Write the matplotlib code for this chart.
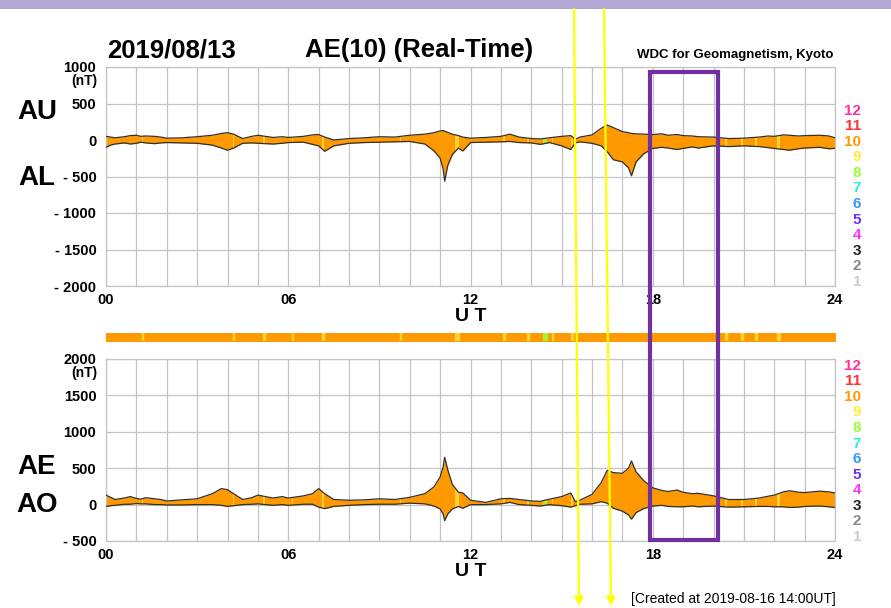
import numpy as np
import matplotlib
matplotlib.use("Agg")
import matplotlib.pyplot as plt
from matplotlib.patches import Rectangle

plt.rcParams["font.family"] = ["Liberation Sans", "DejaVu Sans"]

# ------------------------------------------------------------
#   AE(10) real-time, 2019/08/13  (values in nT, time in UT hours)
# ------------------------------------------------------------
hours = [0, 0.15, 0.3, 0.6, 0.8, 1.0, 1.15, 1.3, 1.6, 1.8, 2.0, 2.5, 3.0,
         3.5, 3.8, 4.0, 4.2, 4.5, 4.8, 5.0, 5.5, 5.8, 6.0, 6.5, 6.8, 7.0,
         7.2, 7.5, 8.0, 8.5, 9.0, 9.5, 10.0, 10.5, 10.8, 11.0, 11.1, 11.15,
         11.25, 11.4, 11.6, 11.75, 12.0, 12.5, 13.0, 13.3, 13.6, 14.0, 14.3,
         14.6, 15.0, 15.3, 15.45, 15.6, 16.0, 16.3, 16.5, 16.7, 17.0, 17.2,
         17.3, 17.45, 17.7, 18.0, 18.3, 18.5, 18.8, 19.0, 19.3, 19.5, 20.0,
         20.5, 21.0, 21.5, 21.8, 22.0, 22.3, 22.5, 22.8, 23.0, 23.5, 23.8,
         24.0]

au = [50, 40, 30, 45, 60, 65, 50, 55, 50, 40, 25, 30, 45,
      65, 90, 100, 80, 20, 50, 65, 35, 45, 35, 50, 70, 75,
      40, 0, 20, 30, 45, 40, 65, 80, 100, 125, 130, 120,
      105, 80, 60, 40, 25, 35, 50, 80, 40, 20, 15,
      30, 50, 60, 10, 40, 70, 160, 205, 170, 115, 100,
      90, 85, 80, 75, 85, 65, 75, 60, 55, 45, 40,
      20, 25, 40, 55, 50, 70, 65, 55, 60, 65, 55,
      30]

al = [-100, -70, -55, -40, -55, -45, -30, -40, -50, -40, -35, -40, -45,
      -70, -110, -140, -110, -45, -40, -45, -55, -45, -35, -30, -60, -80,
      -155, -80, -45, -35, -30, -25, -20, -55, -150, -250, -400, -565,
      -350, -200, -110, -150, -35, -30, -25, -20, -35, -40, -60,
      -35, -80, -130, -40, -25, -45, -80, -160, -270, -300, -380,
      -490, -300, -190, -115, -100, -110, -130, -115, -95, -110, -80,
      -90, -80, -90, -105, -115, -130, -140, -120, -110, -100, -120,
      -115]

ae = [130, 100, 70, 90, 110, 85, 75, 95, 80, 70, 50, 65, 80,
      150, 220, 205, 150, 70, 95, 130, 90, 110, 90, 120, 150, 220,
      150, 70, 60, 65, 80, 70, 100, 150, 245, 380, 520, 650,
      480, 280, 170, 160, 60, 30, 80, 85, 70, 50, 45,
      75, 110, 160, 40, 60, 140, 300, 470, 440, 430, 500,
      600, 450, 330, 230, 195, 180, 200, 170, 150, 155, 120,
      70, 70, 90, 115, 130, 175, 190, 170, 165, 185, 175,
      160]

ao = [-25, -15, -10, 5, 5, 15, 10, 10, 0, 0, -5, -5, 0,
      0, -10, -25, -15, 0, 5, 10, -10, 0, -10, 5, 5, -35,
      -55, -25, -10, 0, 5, 5, 20, 10, -20, -60, -130, -220,
      -130, -60, -25, -50, 0, 0, 10, 30, 0, -10, -20,
      0, -15, -35, -15, 5, 10, 40, 20, -50, -90, -140,
      -200, -110, -55, -20, -10, -25, -30, -30, -20, -30, -20,
      -35, -30, -25, -25, -30, -30, -40, -35, -25, -20, -30,
      -40]

# intervals where fewer than 10 stations contributed
gap_start = [1.17, 4.17, 5.17, 6.12, 7.12, 9.67, 11.50, 13.07, 13.87, 14.38,
             14.67, 15.32, 20.37, 20.92, 21.37, 22.08]
gap_end = [1.22, 4.22, 5.22, 6.17, 7.17, 9.72, 11.62, 13.12, 13.92, 14.52,
           14.72, 15.37, 20.43, 20.97, 21.42, 22.20]
gap_count = [9, 9, 9, 9, 9, 9, 9, 9, 9, 8, 9, 9, 9, 9, 9, 9]

station_levels = [12, 11, 10, 9, 8, 7, 6, 5, 4, 3, 2, 1]
station_colors = ["#ff3399", "#ff3333", "#ff9900", "#ffee33", "#99ff33",
                  "#33eecc", "#3399ff", "#6633ff", "#ff33ff", "#222222",
                  "#888888", "#cccccc"]
level_color = dict(zip(station_levels, station_colors))
stripe_color = {9: "#ffd23a", 8: "#a8f03a"}

top_ticks = [1000, 500, 0, -500, -1000, -1500, -2000]
top_labels = ["1000", "500", "0", "- 500", "- 1000", "- 1500", "- 2000"]
bot_ticks = [2000, 1500, 1000, 500, 0, -500]
bot_labels = ["2000", "1500", "1000", "500", "0", "- 500"]
x_ticks = [0, 6, 12, 18, 24]
x_labels = ["00", "06", "12", "18", "24"]

W, H = 891, 608
fig = plt.figure(figsize=(W / 100, H / 100), dpi=100)


def px_axes(x0, y0, x1, y1):
    return fig.add_axes([x0 / W, 1 - y1 / H, (x1 - x0) / W, (y1 - y0) / H])


def draw_panel(ax, upper, lower, ticks, labels):
    ax.set_xlim(0, 24)
    ax.set_ylim(ticks[-1], ticks[0])
    ax.set_xticks(range(0, 25))
    ax.set_yticks(ticks)
    ax.grid(True, color="#c4c4c4", linewidth=0.9)
    ax.set_axisbelow(True)
    for s in ax.spines.values():
        s.set_color("#c4c4c4")
        s.set_linewidth(0.9)
    ax.tick_params(length=0, labelbottom=False)
    ax.set_yticklabels(labels, fontsize=10.5, fontweight="bold")
    ax.tick_params(axis="y", pad=7)

    poly = ax.fill_between(hours, lower, upper, color=level_color[10],
                           linewidth=0, zorder=2)
    clip = poly.get_paths()[0]
    for s0, s1, c in zip(gap_start, gap_end, gap_count):
        span = ax.axvspan(s0, s1, color=stripe_color[c], linewidth=0,
                          zorder=2.5)
        span.set_clip_path(clip, ax.transData)
    ax.plot(hours, upper, color="#303030", linewidth=0.9, zorder=3)
    ax.plot(hours, lower, color="#303030", linewidth=0.9, zorder=3)

    for xt, xl in zip(x_ticks, x_labels):
        ax.annotate(xl, (xt, 0), xycoords=("data", "axes fraction"),
                    xytext=(0, -10), textcoords="offset points",
                    ha="center", va="center", fontsize=10.5,
                    fontweight="bold")
    ax.annotate("U T", (12, 0), xycoords=("data", "axes fraction"),
                xytext=(0, -22), textcoords="offset points",
                ha="center", va="center", fontsize=14, fontweight="bold")
    ax.annotate("(nT)", (0, ticks[0]), xycoords="data",
                xytext=(-6, -10), textcoords="offset points",
                ha="right", va="center", fontsize=10, fontweight="bold")


ax_top = px_axes(106, 67, 835, 286)
draw_panel(ax_top, au, al, top_ticks, top_labels)

ax_bot = px_axes(106, 359, 835, 541)
draw_panel(ax_bot, ae, ao, bot_ticks, bot_labels)

# station-count strip between the panels
ax_strip = px_axes(106, 333, 835, 341)
ax_strip.set_xlim(0, 24)
ax_strip.set_ylim(0, 1)
ax_strip.axis("off")
ax_strip.broken_barh([(0, 24)], (0, 1), color=level_color[10])
ax_strip.broken_barh([(s0, s1 - s0) for s0, s1 in zip(gap_start, gap_end)],
                     (0, 1), color=[stripe_color[c] for c in gap_count])

# overlay in pixel coordinates for labels and markings
ov = fig.add_axes([0, 0, 1, 1], zorder=10)
ov.set_xlim(0, W)
ov.set_ylim(H, 0)
ov.axis("off")
ov.patch.set_alpha(0)

ov.add_patch(Rectangle((0, 0), W, 9, color="#b4a7d6", linewidth=0))

ov.text(107, 50, "2019/08/13", fontsize=18.5, fontweight="bold", va="center")
ov.text(305, 50, "AE(10) (Real-Time)", fontsize=18.5, fontweight="bold",
        va="center")
ov.text(833, 55, "WDC for Geomagnetism, Kyoto", fontsize=9.5,
        fontweight="bold", ha="right", va="center")
ov.text(836, 599, "[Created at 2019-08-16 14:00UT]", fontsize=10,
        ha="right", va="center")

for name, y in zip(["AU", "AL", "AE", "AO"], [112, 178, 467, 505]):
    ov.text(37, y, name, fontsize=20, fontweight="bold", ha="center",
            va="center")

for y0 in (110.7, 365.8):
    for i, (lev, col) in enumerate(zip(station_levels, station_colors)):
        ov.text(861, y0 + i * 15.55, str(lev), color=col, fontsize=11,
                fontweight="bold", ha="right", va="center")

# purple frame and yellow arrows
ov.add_patch(Rectangle((650, 72), 68, 468, fill=False, edgecolor="#7030a0",
                       linewidth=3))
for xa, xb in ((574, 579), (604, 611)):
    ov.annotate("", xy=(xb, 606), xytext=(xa, 9),
                arrowprops=dict(arrowstyle="-|>,head_length=0.5,head_width=0.25",
                                color="#ffff00", linewidth=1.6,
                                shrinkA=0, shrinkB=0))

fig.savefig("out.png", dpi=100)
